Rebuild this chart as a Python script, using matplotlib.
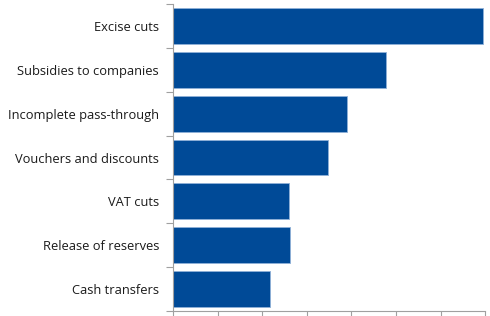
import numpy as np
import matplotlib.pyplot as plt

# Measures, from top to bottom
categories = ["Excise cuts", "Subsidies to companies", "Incomplete pass-through",
              "Vouchers and discounts", "VAT cuts", "Release of reserves", "Cash transfers"]
values = [6.95, 4.78, 3.91, 3.48, 2.61, 2.62, 2.17]

plt.rcParams['font.family'] = ['Open Sans', 'DejaVu Sans']

fig = plt.figure(figsize=(4.9, 3.16), dpi=100)
ax = fig.add_axes([0.353, 0.016, 0.637, 0.971])

y = np.arange(len(categories))
ax.barh(y, values, height=0.82, color='#004a97', edgecolor='#8fb0d8', linewidth=0.6)

ax.set_ylim(len(categories) - 0.5, -0.5)
ax.set_xlim(0, 7)

# category labels without tick marks, tick marks on category boundaries
ax.set_yticks(y)
ax.set_yticklabels(categories, fontsize=9.3, color='#1a1a1a')
ax.tick_params(axis='y', which='major', length=0, pad=10)
ax.set_yticks(np.arange(-0.5, len(categories)), minor=True)
ax.tick_params(axis='y', which='minor', length=5, width=0.8, color='#a0a0a0')

ax.set_xticks(np.arange(0, 8))
ax.set_xticklabels([])
ax.tick_params(axis='x', length=5, width=0.8, color='#a0a0a0')

for side in ['top', 'right']:
    ax.spines[side].set_visible(False)
for side in ['left', 'bottom']:
    ax.spines[side].set_color('#a0a0a0')
    ax.spines[side].set_linewidth(0.8)

fig.savefig('out.png', dpi=100)
